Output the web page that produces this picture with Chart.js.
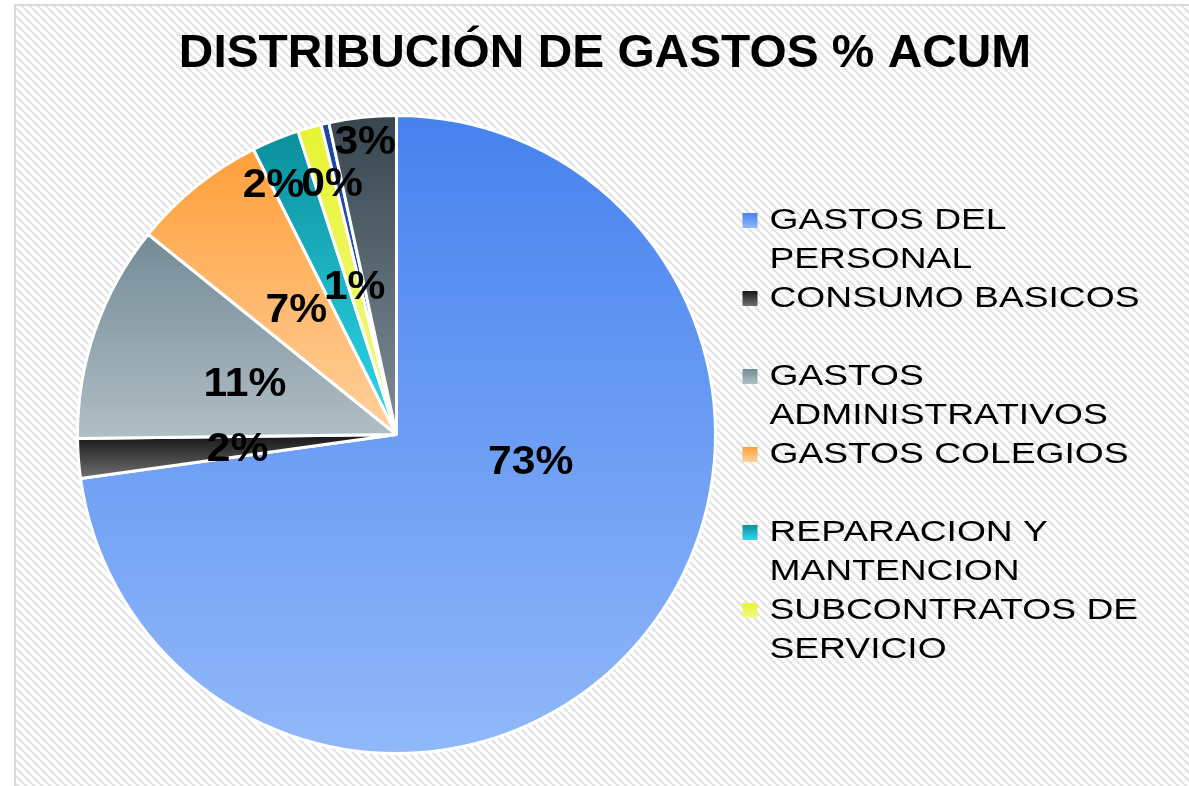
<!DOCTYPE html>
<html>
<head>
<meta charset="utf-8">
<script src="https://cdn.jsdelivr.net/npm/chart.js@4.4.1/dist/chart.umd.min.js"></script>
<style>
  html, body { margin: 0; padding: 0; background: #fff; }
  #wrap { width: 1189px; height: 786px; }
</style>
</head>
<body>
<div id="wrap"><canvas id="gastosChart" width="1189" height="786"></canvas></div>
<script>
// categorias y porcentajes
const chartTitle = "DISTRIBUCIÓN DE GASTOS % ACUM";
const categories = [
  "GASTOS DEL PERSONAL",
  "CONSUMO BASICOS",
  "GASTOS ADMINISTRATIVOS",
  "GASTOS COLEGIOS",
  "REPARACION Y MANTENCION",
  "SUBCONTRATOS DE SERVICIO",
  "OTROS GASTOS",
  "GASTOS GENERALES"
];
const percentages = [72.8, 2.0, 11.0, 6.8, 2.4, 1.2, 0.4, 3.4];

// colores (arriba -> abajo del degradado)
const topColors    = ["#4682ee", "#151515", "#738b96", "#ff9f3a", "#0b8f9c", "#e6f432", "#1a44a8", "#37454e"];
const bottomColors = ["#91b8f9", "#707070", "#b1bec5", "#ffd09c", "#2fd9ec", "#f4f98a", "#2a5cc8", "#7f8e96"];

// ubicacion de etiquetas: [fraccion del radio, ajuste de angulo en grados]
const labelPlacement = [[0.43, -29], [0.50, -1], [0.50, -1], [0.50, 0], [0.87, -4], [0.48, 0], [0.81, -1.5], [0.92, 0]];
const legendCount = 6; // la leyenda original solo muestra 6 entradas
const FONT = "'Liberation Sans', Arial, sans-serif";

function sliceBox(arc) {
  const { x, y, startAngle, endAngle, outerRadius } = arc.getProps(["x", "y", "startAngle", "endAngle", "outerRadius"], true);
  let minY = Math.min(y, y + outerRadius * Math.sin(startAngle), y + outerRadius * Math.sin(endAngle));
  let maxY = Math.max(y, y + outerRadius * Math.sin(startAngle), y + outerRadius * Math.sin(endAngle));
  for (let k = -2; k <= 2; k++) {
    const top = -Math.PI / 2 + k * 2 * Math.PI;
    const bot = Math.PI / 2 + k * 2 * Math.PI;
    if (top >= startAngle - 1e-6 && top <= endAngle + 1e-6) minY = y - outerRadius;
    if (bot >= startAngle - 1e-6 && bot <= endAngle + 1e-6) maxY = y + outerRadius;
  }
  return { minY, maxY };
}

const sliceGradient = {
  id: "sliceGradient",
  beforeDatasetsDraw(chart) {
    const ctx = chart.ctx;
    chart.getDatasetMeta(0).data.forEach((arc, i) => {
      const b = sliceBox(arc);
      const g = ctx.createLinearGradient(0, b.minY, 0, b.maxY);
      g.addColorStop(0, topColors[i]);
      g.addColorStop(1, bottomColors[i]);
      arc.options.backgroundColor = g;
    });
  }
};

const hatchBackground = {
  id: "hatchBackground",
  beforeDraw(chart) {
    const ctx = chart.ctx;
    const tile = document.createElement("canvas");
    tile.width = 8; tile.height = 8;
    const t = tile.getContext("2d");
    t.fillStyle = "#ffffff";
    t.fillRect(0, 0, 8, 8);
    t.strokeStyle = "#e4e4e4";
    t.lineWidth = 2.6;
    [-8, 0, 8].forEach(k => { t.beginPath(); t.moveTo(k, 0); t.lineTo(k + 8, 8); t.stroke(); });
    ctx.save();
    ctx.fillStyle = "#ffffff";
    ctx.fillRect(0, 0, chart.width, chart.height);
    ctx.fillStyle = ctx.createPattern(tile, "repeat");
    ctx.fillRect(16, 6, chart.width - 16, chart.height - 6);
    ctx.strokeStyle = "#d9d9d9";
    ctx.lineWidth = 2;
    ctx.beginPath();
    ctx.moveTo(15, chart.height);
    ctx.lineTo(15, 5);
    ctx.lineTo(chart.width, 5);
    ctx.stroke();
    ctx.restore();
  }
};

// titulo con el ancho estirado del original
const wideTitle = {
  id: "wideTitle",
  afterDraw(chart) {
    const ctx = chart.ctx;
    ctx.save();
    ctx.font = "bold 46px " + FONT;
    ctx.fillStyle = "#000";
    ctx.textAlign = "center";
    ctx.textBaseline = "middle";
    ctx.translate(605, 54);
    ctx.scale(1.04, 1);
    ctx.fillText(chartTitle, 0, 0);
    ctx.restore();
  }
};

const pctLabels = {
  id: "pctLabels",
  afterDatasetsDraw(chart) {
    const ctx = chart.ctx;
    const values = chart.data.datasets[0].data;
    ctx.save();
    ctx.font = "bold 41px " + FONT;
    ctx.fillStyle = "#000";
    ctx.textAlign = "center";
    ctx.textBaseline = "middle";
    chart.getDatasetMeta(0).data.forEach((arc, i) => {
      const { x, y, startAngle, endAngle, outerRadius } = arc.getProps(["x", "y", "startAngle", "endAngle", "outerRadius"], true);
      const [frac, nudge] = labelPlacement[i];
      const a = (startAngle + endAngle) / 2 + nudge * Math.PI / 180;
      const r = outerRadius * frac;
      ctx.save();
      ctx.translate(x + r * Math.cos(a), y + r * Math.sin(a));
      ctx.scale(1.04, 1);
      ctx.fillText(Math.round(values[i]) + "%", 0, 0);
      ctx.restore();
    });
    ctx.restore();
  }
};

function wrapWords(ctx, text, maxWidth) {
  const words = text.split(" ");
  const lines = [];
  let line = "";
  words.forEach(w => {
    const test = line ? line + " " + w : w;
    if (ctx.measureText(test).width > maxWidth && line) {
      lines.push(line);
      line = w;
    } else {
      line = test;
    }
  });
  if (line) lines.push(line);
  return lines;
}

const sideLegend = {
  id: "sideLegend",
  afterDraw(chart) {
    const ctx = chart.ctx;
    const arc = chart.getDatasetMeta(0).data[0];
    const markerX = arc.x + arc.outerRadius + 27;
    const textX = markerX + 27;
    const stretch = 1.24;
    const slot = 78, lineH = 39;
    let y = arc.y - (legendCount * slot) / 2 + lineH / 2;
    ctx.save();
    ctx.font = "30px " + FONT;
    ctx.textBaseline = "middle";
    ctx.textAlign = "left";
    for (let i = 0; i < legendCount; i++) {
      const g = ctx.createLinearGradient(0, y - 7, 0, y + 8);
      g.addColorStop(0, topColors[i]);
      g.addColorStop(1, bottomColors[i]);
      ctx.fillStyle = g;
      ctx.fillRect(markerX, y - 7, 15, 15);
      ctx.fillStyle = "#000";
      const lines = wrapWords(ctx, chart.data.labels[i], (chart.width - textX - 20) / stretch);
      lines.forEach((ln, j) => {
        ctx.save();
        ctx.translate(textX, y + 1 + j * lineH);
        ctx.scale(stretch, 1);
        ctx.fillText(ln, 0, 0);
        ctx.restore();
      });
      y += slot;
    }
    ctx.restore();
  }
};

new Chart(document.getElementById("gastosChart").getContext("2d"), {
  type: "pie",
  data: {
    labels: categories,
    datasets: [{
      data: percentages,
      backgroundColor: topColors,
      borderColor: "#ffffff",
      borderWidth: 3,
      hoverOffset: 0
    }]
  },
  options: {
    responsive: false,
    animation: false,
    events: [],
    layout: { padding: { left: 76, right: 472, top: 113, bottom: 30 } },
    plugins: {
      legend: { display: false },
      tooltip: { enabled: false },
      title: { display: false }
    }
  },
  plugins: [hatchBackground, sliceGradient, pctLabels, sideLegend, wideTitle]
});
</script>
</body>
</html>
